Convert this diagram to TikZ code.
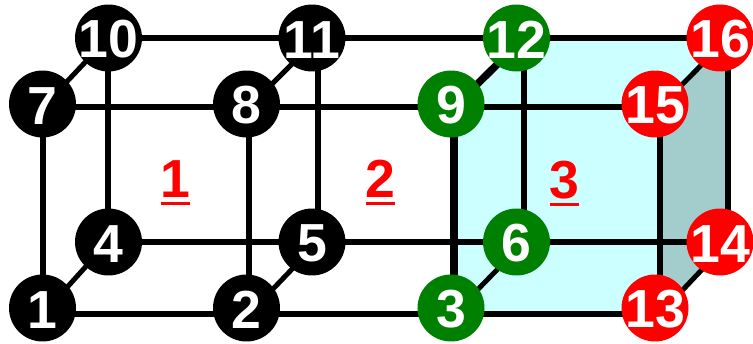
\documentclass[tikz,border=0pt]{standalone}
\usepackage{fontspec}
\setsansfont{Liberation Sans}
\usetikzlibrary{backgrounds}
\tikzset{
    vert/.style={circle, inner sep=-5pt, minimum size=1.34cm, text=white, text height=23pt, font=\fontsize{30.5}{30.5}\sffamily\bfseries},
    vertblack/.style={vert, fill=black},
    vertgreen/.style={vert, fill=green!50!black},
    vertred/.style={vert, fill=red},
    edge/.style={draw=black, line width=0.12cm},
    edgeslant/.style={draw=black, line width=0.1cm},
    edgeheavy/.style={draw=black, line width=0.15cm},
    cellnum/.style={anchor=base, inner sep=0pt, text=red, font=\fontsize{30.5}{30.5}\sffamily\bfseries}
}
\definecolor{facelight}{HTML}{CCFFFF}
\definecolor{faceside}{HTML}{A3CCCC}
\newcommand{\cellmark}[1]{\vtop{\hbox{#1}\kern2.6pt\hrule height 1.7pt}}

\begin{document}
\begin{tikzpicture}[x=0.02cm, y=-0.02cm]
    \useasboundingbox (0,0) rectangle (753,344);

    % Vertices: number, circle position, grid position, style
    \foreach \n/\x/\y/\u/\v/\sty in {
        1/42.5/308/43/314/vertblack, 2/246.5/308/249/314/vertblack, 3/451/308/454/314/vertgreen,
        13/655/308/660/314/vertred, 4/108.5/242/108/242/vertblack, 5/312/242/318/242/vertblack,
        6/516.5/242/524/242/vertgreen, 14/720/242/728/242/vertred, 7/42.5/104/43/107/vertblack,
        8/246.5/104/249/107/vertblack, 9/451/104/454/107/vertgreen, 15/655/104/660/107/vertred,
        10/108.5/38/108/38/vertblack, 11/312/38/318/38/vertblack, 12/516.5/38/524/38/vertgreen,
        16/720/38/728/38/vertred} {
        \node[\sty] (n\n) at (\x,\y) {\n};
        \coordinate (g\n) at (\u,\v);
    }

    % Cell numbers
    \node[cellnum] (cell1) at (175.5,197) {\cellmark{1}};
    \node[cellnum] (cell2) at (380.5,197) {\cellmark{2}};
    \node[cellnum] (cell3) at (564.5,198) {\cellmark{3}};

    \begin{scope}[on background layer]
        % Shaded cell
        \fill[facelight] (g3) -- (g9) -- (g12) -- (g16) -- (g15) -- (g13) -- cycle;
        \fill[faceside] (g15) -- (g16) -- (g14) -- (g13) -- cycle;

        % Along x
        \foreach \a/\b in {1/2, 2/3, 3/13, 4/5, 5/6, 6/14, 7/8, 8/9, 9/15, 10/11, 11/12, 12/16}
            \draw[edge] (g\a) -- (g\b);
        % Along y
        \foreach \a/\b in {1/7, 2/8, 13/15, 4/10, 5/11, 6/12, 14/16}
            \draw[edge] (g\a) -- (g\b);
        \draw[edgeheavy] (g3) -- (g9);
        % Along z
        \foreach \a/\b in {1/4, 2/5, 3/6, 13/14, 7/10, 8/11, 15/16}
            \draw[edgeslant] (g\a) -- (g\b);
        \draw[edgeheavy] (g9) -- (g12);
    \end{scope}
\end{tikzpicture}
\end{document}
